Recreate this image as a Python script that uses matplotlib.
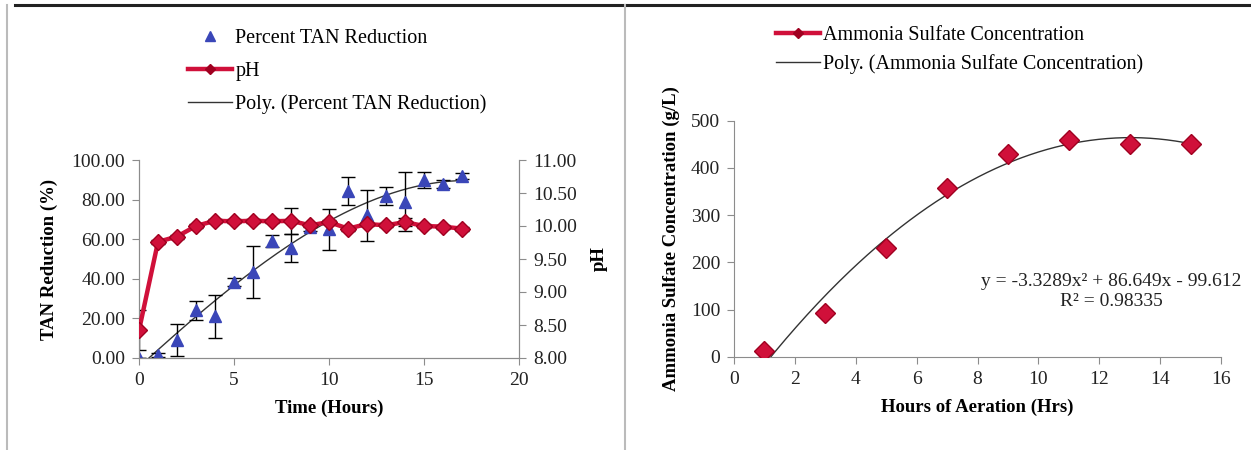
import numpy as np
import matplotlib
matplotlib.use("Agg")
import matplotlib.pyplot as plt
from matplotlib.lines import Line2D

plt.rcParams['font.family'] = ['Liberation Serif', 'DejaVu Serif']

# ---- left panel data: TAN reduction and pH over time ----
time_h = [0, 1, 2, 3, 4, 5, 6, 7, 8, 9, 10, 11, 12, 13, 14, 15, 16, 17]
tan_pct = [0, 1.5, 9, 24, 21, 38.5, 43.5, 59, 55.5, 66, 65, 84.5, 72, 82, 79, 90, 88, 92]
tan_err = [0, 1, 8, 5, 11, 2, 13, 3, 7, 2, 10.5, 7, 13, 4.5, 15, 4, 2, 1.5]
ph_vals = [8.42, 9.76, 9.84, 10.0, 10.08, 10.07, 10.08, 10.07, 10.08, 10.01,
           10.06, 9.96, 10.03, 10.01, 10.06, 10.0, 9.99, 9.96]
ph_err = [0.3, 0.03, 0.03, 0.03, 0.03, 0.03, 0.03, 0.03, 0.2, 0.03,
          0.03, 0.03, 0.03, 0.03, 0.06, 0.03, 0.03, 0.03]

# ---- right panel data: ammonia sulfate concentration ----
aer_h = [1, 3, 5, 7, 9, 11, 13, 15]
as_conc = [12, 92, 230, 358, 430, 460, 450, 450]
eq_text = "y = -3.3289x\u00b2 + 86.649x - 99.612"
r2_text = "R\u00b2 = 0.98335"

RED = '#D0103A'
BLUE = '#3A46B8'
AX_GREY = '#8C8C8C'
TICK_FS = 14
LAB_FS = 13.5
LEG_FS = 14.5

fig = plt.figure(figsize=(12.51, 4.5), dpi=100)

# panel frame lines
fig.add_artist(Line2D([15 / 1251, 1], [1 - 5 / 450] * 2, color='#222222', lw=2.2))
fig.add_artist(Line2D([7 / 1251] * 2, [0, 1 - 5 / 450], color='#BBBBBB', lw=1.5))
fig.add_artist(Line2D([625 / 1251] * 2, [0, 1 - 5 / 450], color='#BBBBBB', lw=1.5))

# =============================
# Left panel
# =============================
ax = fig.add_axes([139 / 1251, 1 - 358 / 450, 380 / 1251, 198 / 450])
ax2 = ax.twinx()

ax.errorbar(time_h, tan_pct, yerr=tan_err, fmt='^', color=BLUE, ms=8,
            ecolor='black', elinewidth=1, capsize=5, zorder=3)
coef = np.polyfit(time_h, tan_pct, 3)
tt = np.linspace(min(time_h), max(time_h), 200)
ax.plot(tt, np.polyval(coef, tt), color='#333333', lw=1, zorder=2)

ax2.errorbar(time_h, ph_vals, yerr=ph_err, fmt='none', ecolor='black',
             elinewidth=1, capsize=5, zorder=2)
ax2.plot(time_h, ph_vals, color=RED, lw=3.2, marker='D', ms=8.5,
         mfc=RED, mec='#A00020', zorder=3)

ax.set_xlim(0, 20)
ax.set_ylim(0, 100)
ax.set_xticks([0, 5, 10, 15, 20])
ax.set_yticks(np.arange(0, 101, 20))
ax.yaxis.set_major_formatter(plt.FormatStrFormatter('%.2f'))
ax2.set_ylim(8, 11)
ax2.set_yticks(np.arange(8, 11.01, 0.5))
ax2.yaxis.set_major_formatter(plt.FormatStrFormatter('%.2f'))

for a in (ax, ax2):
    a.spines['top'].set_visible(False)
    for s in ('left', 'right', 'bottom'):
        a.spines[s].set_color(AX_GREY)
    a.tick_params(colors=AX_GREY, labelcolor='#222222', labelsize=TICK_FS,
                  length=5, direction='out', pad=5)
ax.patch.set_visible(False)

ax.set_xlabel("Time (Hours)", fontsize=LAB_FS, fontweight='bold', labelpad=8)
ax.set_ylabel("TAN Reduction (%)", fontsize=LAB_FS, fontweight='bold', labelpad=10)
ax2.set_ylabel("pH", fontsize=LAB_FS, fontweight='bold', labelpad=10)

left_handles = [
    Line2D([], [], ls='none', marker='^', color=BLUE, ms=7),
    Line2D([], [], color=RED, lw=3.2, marker='D', ms=5, mfc='#A00020', mec='#A00020'),
    Line2D([], [], color='#333333', lw=1),
]
fig.legend(left_handles, ["Percent TAN Reduction", "pH", "Poly. (Percent TAN Reduction)"],
           loc='upper left', bbox_to_anchor=(180 / 1251, 1 - 21 / 450),
           frameon=False, fontsize=LEG_FS, handlelength=2.2, handletextpad=0.15,
           labelspacing=0.68, borderaxespad=0)

# =============================
# Right panel
# =============================
bx = fig.add_axes([734 / 1251, 1 - 356.7 / 450, 487 / 1251, 236 / 450])
bcoef = np.polyfit(aer_h, as_conc, 2)
xx = np.linspace(min(aer_h), max(aer_h), 200)
bx.plot(xx, np.polyval(bcoef, xx), color='#333333', lw=1, zorder=2)
bx.plot(aer_h, as_conc, ls='none', marker='D', ms=10.5, mfc=RED, mec='#A00020', zorder=3)

bx.set_xlim(0, 16)
bx.set_ylim(0, 500)
bx.set_xticks(np.arange(0, 17, 2))
bx.set_yticks(np.arange(0, 501, 100))
bx.spines['top'].set_visible(False)
bx.spines['right'].set_visible(False)
for s in ('left', 'bottom'):
    bx.spines[s].set_color(AX_GREY)
bx.tick_params(colors=AX_GREY, labelcolor='#222222', labelsize=TICK_FS,
               length=5, direction='out', pad=5)

bx.set_xlabel("Hours of Aeration (Hrs)", fontsize=LAB_FS, fontweight='bold', labelpad=8)
bx.set_ylabel("Ammonia Sulfate Concentration (g/L)", fontsize=LAB_FS,
              fontweight='bold', labelpad=8)

bx.text(0.775, 0.32, eq_text, transform=bx.transAxes, ha='center', va='center',
        fontsize=TICK_FS, color='#222222')
bx.text(0.775, 0.235, r2_text, transform=bx.transAxes, ha='center', va='center',
        fontsize=TICK_FS, color='#222222')

right_handles = [
    Line2D([], [], color=RED, lw=3.2, marker='D', ms=5, mfc='#A00020', mec='#A00020'),
    Line2D([], [], color='#333333', lw=1),
]
fig.legend(right_handles, ["Ammonia Sulfate Concentration", "Poly. (Ammonia Sulfate Concentration)"],
           loc='upper left', bbox_to_anchor=(768 / 1251, 1 - 18 / 450),
           frameon=False, fontsize=LEG_FS, handlelength=2.2, handletextpad=0.15,
           labelspacing=0.45, borderaxespad=0)

fig.savefig("out.png", dpi=100)
